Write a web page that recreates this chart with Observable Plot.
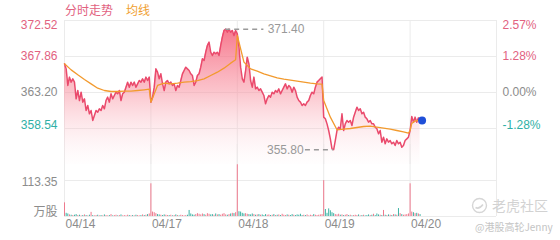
<!DOCTYPE html>
<html><head><meta charset="utf-8">
<script src="https://cdn.jsdelivr.net/npm/d3@7"></script>
<script src="https://cdn.jsdelivr.net/npm/@observablehq/plot@0.6"></script>
<style>
html,body{margin:0;padding:0;background:#fff;}
#wrap{position:relative;width:560px;height:240px;overflow:hidden;font-family:"Liberation Sans","Noto Sans CJK SC",sans-serif;}
#wrap svg{position:absolute;left:0;top:0;}
.legend{position:absolute;left:65px;top:3px;font-size:12px;line-height:14px;font-family:"Noto Sans CJK SC",sans-serif;white-space:nowrap;}
.wm1{position:absolute;left:471px;top:197px;font-size:14px;line-height:17px;color:#d2d2d2;font-family:"Noto Sans CJK SC",sans-serif;white-space:nowrap;}
.wm2{position:absolute;left:475px;top:221px;font-size:10px;line-height:12px;color:#c4c4c4;font-family:"Noto Sans CJK SC",sans-serif;white-space:nowrap;}
</style></head><body><div id="wrap"></div>
<script>
// ---- data ----
const dayLabels = ["04/14", "04/17", "04/18", "04/19", "04/20"];
const slotsPerDay = 52;

const priceD1 = [366.91,366.26,364.11,365.19,364.54,364.97,364.54,362.38,363.46,362.16,363.24,361.95,362.38,360.87,361.52,360.44,360.87,359.58,360.22,360.87,360.65,361.09,360.87,361.52,361.09,362.16,362.60,361.95,363.03,362.38,362.81,363.24,363.03,363.46,362.16,363.03,363.24,363.89,364.54,363.89,364.54,364.11,364.54,363.89,364.32,364.75,364.54,364.97,364.54,365.19,364.75,365.19];
const priceD2 = [361.95,362.60,363.89,366.26,365.83,364.97,365.62,364.32,363.46,364.54,364.75,364.32,364.54,364.11,364.32,363.46,364.11,363.89,364.75,365.62,366.05,366.48,366.26,366.05,365.62,365.40,364.11,364.54,365.40,365.62,366.48,367.56,367.34,368.42,369.28,369.72,368.42,367.99,368.42,368.21,368.42,367.99,369.28,370.36,371.23,371.40,371.01,371.40,371.01,371.23,370.58,371.23];
const priceD3 = [370.79,369.07,366.48,364.97,364.54,366.05,367.77,366.91,364.75,363.89,365.19,363.67,363.89,363.46,363.67,363.24,362.81,361.73,362.38,362.81,362.60,363.24,363.03,363.46,363.24,363.67,363.03,363.46,363.89,364.32,363.67,364.11,363.89,363.24,363.89,363.46,362.60,362.16,361.95,361.52,361.73,361.52,361.95,362.16,362.81,363.24,363.03,363.89,364.54,364.75,364.97,365.19];
const priceD4 = [360.01,359.79,359.14,358.28,357.20,355.91,355.80,356.99,358.28,358.71,358.50,360.44,358.28,359.14,359.58,359.36,359.58,358.93,360.01,360.65,361.30,360.87,361.09,360.44,360.65,360.01,359.79,359.36,359.58,359.14,359.14,358.71,358.50,357.85,358.28,356.77,357.42,356.56,357.20,356.77,356.99,356.56,356.77,356.34,356.99,356.56,356.77,356.12,356.34,356.99,357.20,357.42];
const priceD5 = [358.28,360.09,359.36,360.01,359.36,359.92,359.58];

const avgSlots = [0,4,8,12,16,20,24,28,32,36,40,44,48,51];
const avgD1 = [366.91,366.13,365.49,364.88,364.32,363.76,363.46,363.33,363.33,363.37,363.37,363.46,363.55,363.63];
const avgD2 = [361.95,364.11,364.41,364.32,364.41,364.54,364.62,364.75,364.97,365.40,365.83,366.35,367.00,367.43];
const avgD3 = [370.58,367.13,366.26,365.96,365.62,365.36,365.10,364.93,364.80,364.67,364.54,364.41,364.32,364.28];
const avgD4 = [362.17,360.01,358.37,358.45,358.54,358.67,358.80,358.84,358.71,358.58,358.45,358.28,358.11,357.94];
const avgSlotsD5 = [0,1,2,3,4,5,6];
const avgD5 = [358.28,359.20,359.36,359.49,359.55,359.58,359.58];

const volD1 = [43,10,8,5,4,3,4,6,3,4,2,3,5,3,2,4,13,3,2,3,4,2,3,2,5,3,2,3,6,2,3,4,2,3,5,2,3,2,4,3,2,3,2,4,3,2,3,5,3,4,6,8];
const volD2 = [103,14,12,9,6,5,4,3,5,4,3,3,4,2,3,5,3,2,4,3,2,3,4,19,8,5,4,6,9,7,5,8,6,4,9,7,5,6,4,8,5,6,4,7,9,5,4,6,8,10,9,12];
const volD3 = [163,15,14,10,8,9,7,6,5,8,6,4,5,6,4,5,3,6,4,5,3,4,6,3,4,5,3,7,4,3,5,4,3,6,4,3,5,4,7,3,4,3,5,2,4,3,6,4,3,4,5,6];
const volD4 = [113,22,10,24,18,12,9,6,5,7,4,5,3,4,6,3,4,2,3,4,3,5,2,3,4,2,3,5,3,4,7,3,8,5,4,3,19,4,3,5,4,3,6,5,4,25,9,6,4,5,6,8];
const volD5 = [103,14,12,9,10,8,6];

const priceTicks = [372.52, 367.86, 363.20, 358.54];
const priceTickLabels = ["372.52", "367.86", "363.20", "358.54"];
const pctTickLabels = ["2.57%", "1.28%", "0.00%", "-1.28%"];
const prevClose = 363.20;
const priceDomain = [353.88, 372.52];
const volTicks = [113.35];
const volTickLabels = ["113.35"];
const volUnit = "万股";
const volDomain = [0, 226.70];
const legendLabels = ["分时走势", "均线"];

// ---- build rows ----
const priceDays = [priceD1, priceD2, priceD3, priceD4, priceD5];
const volDays = [volD1, volD2, volD3, volD4, volD5];
const avgDays = [[avgSlots, avgD1], [avgSlots, avgD2], [avgSlots, avgD3], [avgSlots, avgD4], [avgSlotsD5, avgD5]];
const totalSlots = slotsPerDay * dayLabels.length;
const dayStarts = dayLabels.map((_, d) => d * slotsPerDay);

const rows = [];
priceDays.forEach((arr, d) => arr.forEach((p, i) => {
  const t = d * slotsPerDay + i;
  const prev = i === 0 ? null : arr[i - 1];
  rows.push({t, price: p, vol: volDays[d][i], up: prev === null || p >= prev});
}));
const avgRows = [];
avgDays.forEach(([slots, vals], d) => slots.forEach((s, k) => avgRows.push({t: d * slotsPerDay + s, avg: vals[k]})));

const hi = rows[d3.maxIndex(rows, r => r.price)];
const lo = rows[d3.minIndex(rows, r => r.price)];
const last = rows[rows.length - 1];

const RED = "#e2627f", TEAL = "#2fb0a6", GRAY = "#8c8c8c", GRID = "#ebebeb";
const tickColor = v => v > prevClose ? RED : v < prevClose ? TEAL : GRAY;
const font = "'Liberation Sans', 'Noto Sans CJK SC', sans-serif";
const W = 560, H = 240, ML = 64, MR = 64;

const gradient = () => {
  const defs = d3.create("svg:defs");
  const g = defs.append("linearGradient").attr("id", "priceFill").attr("x1", 0).attr("y1", 0).attr("x2", 0).attr("y2", 1);
  g.append("stop").attr("offset", "0%").attr("stop-color", "#f55f78").attr("stop-opacity", 0.85);
  g.append("stop").attr("offset", "45%").attr("stop-color", "#f8909f").attr("stop-opacity", 0.55);
  g.append("stop").attr("offset", "100%").attr("stop-color", "#fde2e6").attr("stop-opacity", 0.05);
  return defs.node();
};

const tickIdx = priceTicks.map((v, i) => ({v, i}));
const topT = tickIdx.filter(d => d.i === 0), midT = tickIdx.filter(d => d.i > 0 && d.i < priceTicks.length - 1), botT = tickIdx.filter(d => d.i === priceTicks.length - 1);
const leftText = (data, lineAnchor) => Plot.text(data, {y: d => d.v, text: d => priceTickLabels[d.i], fill: d => tickColor(d.v), frameAnchor: "left", textAnchor: "end", dx: -7, lineAnchor, fontSize: 12});
const rightText = (data, lineAnchor) => Plot.text(data, {y: d => d.v, text: d => pctTickLabels[d.i], fill: d => tickColor(d.v), frameAnchor: "right", textAnchor: "start", dx: 6, lineAnchor, fontSize: 12});

const annotLen = 23; // length of dashed leader, in time slots
const pricePlot = Plot.plot({
  width: W, height: H, marginLeft: ML, marginRight: MR, marginTop: 20, marginBottom: 76,
  x: {domain: [0, totalSlots], axis: null},
  y: {domain: priceDomain, axis: null},
  color: {type: "identity"},
  style: {background: "transparent", fontFamily: font, fontSize: "12px", overflow: "visible"},
  marks: [
    gradient,
    Plot.ruleY(priceTicks, {stroke: GRID}),
    Plot.ruleX(dayStarts.concat([totalSlots]), {stroke: GRID}),
    Plot.areaY(rows, {x: "t", y1: priceDomain[0], y2: "price", fill: "url(#priceFill)", curve: "linear"}),
    Plot.line(rows, {x: "t", y: "price", stroke: "#ea4a6c", strokeWidth: 1.5}),
    Plot.line(avgRows, {x: "t", y: "avg", stroke: "#f29a2e", strokeWidth: 1.3}),
    Plot.ruleY([hi], {y: "price", x1: "t", x2: d => d.t + annotLen, stroke: "#9a9a9a", strokeWidth: 1.5, strokeDasharray: "5,4"}),
    Plot.text([hi], {x: "t", y: "price", text: d => d.price.toFixed(2), dx: 42, textAnchor: "start", fill: "#999", fontSize: 12}),
    Plot.ruleY([lo], {y: "price", x1: d => d.t - 17, x2: "t", stroke: "#9a9a9a", strokeWidth: 1.5, strokeDasharray: "5,4"}),
    Plot.text([lo], {x: "t", y: "price", text: d => d.price.toFixed(2), dx: -30, textAnchor: "end", fill: "#999", fontSize: 12}),
    Plot.dot([last], {x: "t", y: "price", r: 4, fill: "#1f4fd8", dx: 2}),
    leftText(topT, "top"), leftText(midT, "middle"), leftText(botT, "bottom"),
    rightText(topT, "top"), rightText(midT, "middle"), rightText(botT, "bottom")
  ]
});

const volPlot = Plot.plot({
  width: W, height: H, marginLeft: ML, marginRight: MR, marginTop: 144, marginBottom: 24,
  x: {domain: [0, totalSlots], axis: null},
  y: {domain: volDomain, axis: null},
  color: {type: "identity"},
  style: {background: "transparent", fontFamily: font, fontSize: "12px", overflow: "visible"},
  marks: [
    Plot.ruleY([0].concat(volTicks), {stroke: GRID}),
    Plot.ruleX(dayStarts.concat([totalSlots]), {stroke: GRID}),
    Plot.ruleX(rows, {x: "t", y1: 0, y2: "vol", stroke: d => d.up ? "#ee7a8e" : "#3db3a4", strokeWidth: 1}),
    Plot.text(volTicks, {y: d => d, text: (d, i) => volTickLabels[i], frameAnchor: "left", textAnchor: "end", dx: -7, dy: 2, fill: GRAY, fontSize: 12}),
    Plot.text([0], {y: d => d, text: [volUnit], frameAnchor: "left", textAnchor: "end", dx: -7, lineAnchor: "bottom", dy: -1, fill: GRAY, fontSize: 12, fontFamily: "'Noto Sans CJK SC', sans-serif"}),
    Plot.text(dayStarts, {x: d => d, text: (d, i) => dayLabels[i], frameAnchor: "bottom", textAnchor: "start", dx: 1, dy: 11, fill: GRAY, fontSize: 12})
  ]
});

const wrap = document.getElementById("wrap");
wrap.appendChild(volPlot);
wrap.appendChild(pricePlot);

const legend = document.createElement("div");
legend.className = "legend";
legend.innerHTML = `<span style="color:${RED}">${legendLabels[0]}</span><span style="color:#f0a030;margin-left:13px">${legendLabels[1]}</span>`;
wrap.appendChild(legend);

const wm1 = document.createElement("div");
wm1.className = "wm1";
wm1.innerHTML = `<svg width="17" height="17" viewBox="0 0 17 17" style="position:static;vertical-align:-3px;margin-right:4px"><circle cx="8.5" cy="8.5" r="7" fill="none" stroke="#d6d6d6" stroke-width="1.4"/><path d="M4.5 10.5 Q8 12.5 12 7.5" fill="none" stroke="#d6d6d6" stroke-width="1.6"/></svg>老虎社区`;
wrap.appendChild(wm1);
const wm2 = document.createElement("div");
wm2.className = "wm2";
wm2.textContent = "@港股高轮Jenny";
wrap.appendChild(wm2);
</script></body></html>
